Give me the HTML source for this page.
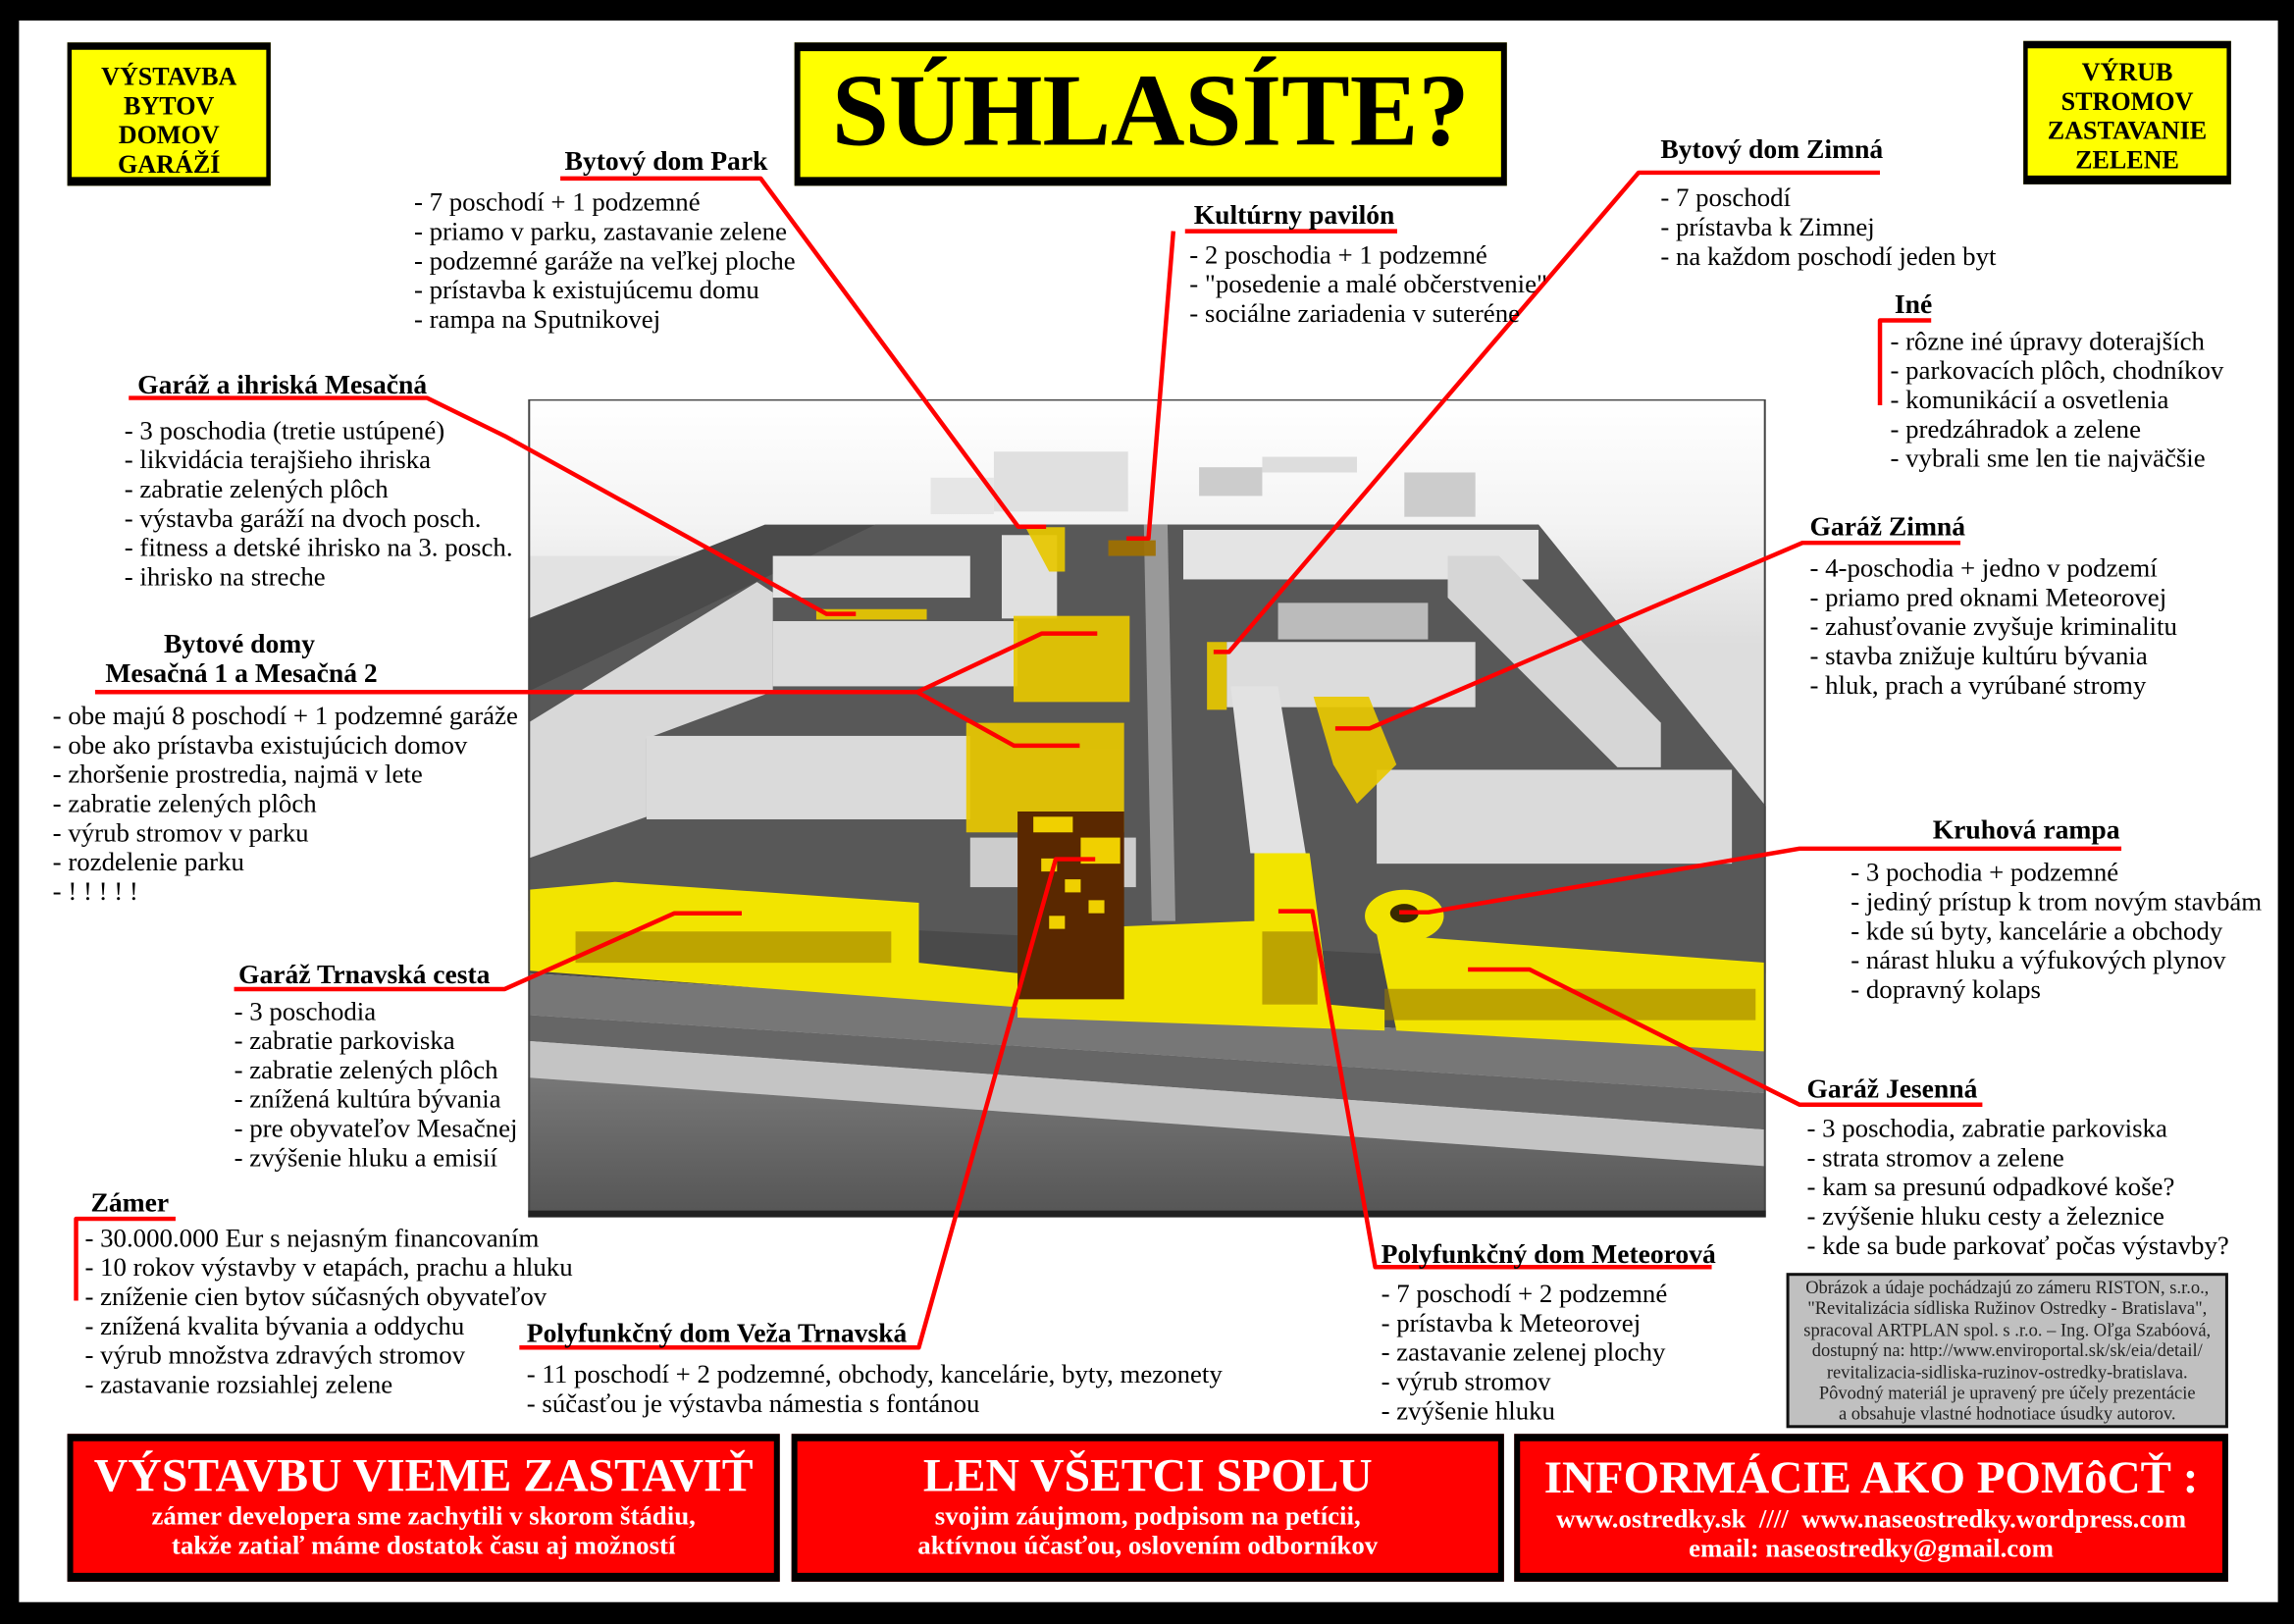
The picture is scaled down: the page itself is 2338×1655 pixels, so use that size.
<!DOCTYPE html>
<html><head><meta charset="utf-8"><style>
html,body{margin:0;padding:0;background:#000;width:2338px;height:1654px;overflow:hidden}
#s{position:absolute;left:0;top:0;width:1568px;height:1110px;transform:scale(1.49107);transform-origin:0 0;font-family:"Liberation Serif",serif;color:#000}
.a{position:absolute;white-space:nowrap}
.l{font-size:18px;line-height:20px}
.h{font-size:18.5px;line-height:20px;font-weight:bold}
.yb{position:absolute;background:#ff0;border:solid #000;border-width:5px 3px 6px 3px;box-sizing:border-box;text-align:center;font-weight:bold}
.rb{position:absolute;background:#f00;border:solid #000;border-width:5px 4px 6px 4px;box-sizing:border-box;text-align:center;color:#fff;font-weight:bold}
</style></head><body><div id="s">
<div style="position:absolute;left:13.4px;top:14px;width:1543.6px;height:1081px;background:#fff"></div>

<div class="yb" style="left:46px;top:29px;width:139px;height:98px;font-size:17.5px;line-height:20px;padding-top:8px">VÝSTAVBA<br>BYTOV<br>DOMOV<br>GARÁŽÍ</div>
<div class="yb" style="left:543px;top:29px;width:487px;height:98px;border-width:6px 4px 6px 4px;font-size:70px;line-height:84px">SÚHLASÍTE?</div>
<div class="yb" style="left:1383px;top:28px;width:142px;height:98px;font-size:17.5px;line-height:20px;padding-top:6px">VÝRUB<br>STROMOV<br>ZASTAVANIE<br>ZELENE</div>

<svg style="position:absolute;left:361px;top:273px" width="846" height="559" viewBox="0 0 1568 1568" preserveAspectRatio="none">
<defs><linearGradient id="g1" x1="0" y1="0" x2="0" y2="1"><stop offset="0" stop-color="#fff"/><stop offset="0.15" stop-color="#f4f4f4"/><stop offset="0.3" stop-color="#ddd"/></linearGradient>
<linearGradient id="g2" x1="0" y1="0" x2="0" y2="1"><stop offset="0" stop-color="#777"/><stop offset="1" stop-color="#555"/></linearGradient></defs>
<rect width="1568" height="1568" fill="url(#g1)"/>
<rect x="0" y="300" width="300" height="350" fill="#e2e2e2"/>
<rect x="590" y="100" width="170" height="115" fill="#e0e0e0"/><rect x="510" y="150" width="80" height="70" fill="#e6e6e6"/>
<rect x="850" y="130" width="80" height="55" fill="#ccc"/><rect x="930" y="110" width="120" height="30" fill="#ddd"/>
<rect x="1110" y="140" width="90" height="85" fill="#ccc"/>
<polygon points="300,240 1280,240 1568,780 1568,1250 0,1100 0,420" fill="#4a4a4a"/>
<polygon points="440,240 1280,240 1568,780 1568,1100 0,980 0,560" fill="#585858"/>
<polygon points="0,1100 1568,1250 1568,1330 0,1180" fill="#777"/>
<polygon points="0,1180 1568,1330 1568,1400 0,1230" fill="#666"/>
<polygon points="0,1230 1568,1400 1568,1470 0,1300" fill="#c4c4c4"/>
<polygon points="0,1300 1568,1470 1568,1568 0,1568" fill="url(#g2)"/>
<polygon points="780,240 810,240 820,1000 790,1000" fill="#999"/>
<polygon points="0,620 290,350 310,370 310,560 150,650 150,800 0,880" fill="#d8d8d8"/>
<rect x="310" y="300" width="250" height="80" fill="#e4e4e4"/>
<rect x="310" y="425" width="310" height="125" fill="#dcdcdc"/>
<rect x="150" y="645" width="410" height="160" fill="#dadada"/>
<rect x="600" y="260" width="70" height="160" fill="#e0e0e0"/>
<rect x="830" y="250" width="450" height="95" fill="#e4e4e4"/>
<rect x="950" y="390" width="190" height="70" fill="#bbb"/>
<rect x="885" y="465" width="315" height="125" fill="#dcdcdc"/>
<polygon points="1165,300 1230,300 1435,620 1435,705 1380,705 1165,380" fill="#d6d6d6"/>
<rect x="1075" y="710" width="450" height="180" fill="#dadada"/>
<polygon points="890,550 950,550 985,870 915,870" fill="#e2e2e2"/>
<rect x="560" y="840" width="210" height="95" fill="#ccc"/>
<g fill="#e8c800" opacity="0.92">
<rect x="615" y="415" width="147" height="165"/>
<rect x="555" y="620" width="200" height="210"/>
<polygon points="630,245 680,245 680,330 660,330"/>
<rect x="735" y="270" width="60" height="30" fill="#a07000"/>
<rect x="860" y="465" width="25" height="130"/>
<polygon points="995,570 1065,570 1100,700 1050,775 1020,700"/>
<rect x="365" y="402" width="140" height="20"/>
</g>
<g fill="#f2e400">
<polygon points="0,940 110,925 495,965 495,1080 620,1100 620,1165 0,1095"/>
<polygon points="755,1010 920,1000 920,870 990,870 1015,1160 1085,1170 1085,1210 620,1185 620,1100"/>
<polygon points="1075,1025 1568,1080 1568,1250 1100,1210"/>
<circle cx="1110" cy="990" r="50"/>
</g>
<g fill="#9a7a00" opacity="0.6"><rect x="60" y="1020" width="400" height="60"/><rect x="1085" y="1130" width="470" height="60"/><rect x="930" y="1020" width="70" height="140"/></g>
<rect x="620" y="790" width="135" height="360" fill="#5a2800"/>
<g fill="#f0d000"><rect x="640" y="800" width="50" height="30"/><rect x="700" y="840" width="50" height="50"/><rect x="650" y="880" width="20" height="25"/><rect x="680" y="920" width="20" height="25"/><rect x="710" y="960" width="20" height="25"/><rect x="660" y="990" width="20" height="25"/></g>
<circle cx="1110" cy="985" r="18" fill="#3a2a00"/>
<rect x="1" y="1" width="1566" height="1566" fill="none" stroke="#444" stroke-width="3"/>
<rect x="0" y="1555" width="1568" height="13" fill="#222"/>
</svg>

<svg style="position:absolute;left:0;top:0" width="1568" height="1110" fill="none" stroke="#f00" stroke-width="3" stroke-linejoin="round">
<polyline points="383,122 520,122 696,360 715,360"/>
<polyline points="810,158 955,158"/><polyline points="802,158 785,368 770,368"/>
<polyline points="1285,118 1120,118 840,445.6 829.5,445.6"/>
<polyline points="1320,219 1285,219 1285,277"/>
<polyline points="88,272 292,272 345,298 565,419.6 585,419.6"/>
<polyline points="65,473 627,473 712,433 750,433"/><polyline points="627,473 693,509.6 738,509.6"/>
<polyline points="1340,371 1232,371 936,497.9 912.7,497.9"/>
<polyline points="1450,580 1230,580 976.4,623.5 956.4,623.5"/>
<polyline points="160,676 345,676 461,624.2 507,624.2"/>
<polyline points="1355,755 1230,755 1045.5,662.6 1003.4,662.6"/>
<polyline points="120,833 52,833 52,889"/>
<polyline points="355,921 628,921 721.6,587.2 748.6,587.2"/>
<polyline points="1170,866 940,866 897,622.8 873.8,622.8"/>
</svg>

<div class="a h" style="left:386px;top:101px">Bytový dom Park</div>
<div class="a l" style="left:283px;top:128px">- 7 poschodí + 1 podzemné<br>- priamo v parku, zastavanie zelene<br>- podzemné garáže na veľkej ploche<br>- prístavba k existujúcemu domu<br>- rampa na Sputnikovej</div>
<div class="a h" style="left:816px;top:138px">Kultúrny pavilón</div>
<div class="a l" style="left:813px;top:164px">- 2 poschodia + 1 podzemné<br>- "posedenie a malé občerstvenie"<br>- sociálne zariadenia v suteréne</div>
<div class="a h" style="left:1135px;top:93px">Bytový dom Zimná</div>
<div class="a l" style="left:1135px;top:125px">- 7 poschodí<br>- prístavba k Zimnej<br>- na každom poschodí jeden byt</div>
<div class="a h" style="left:1295px;top:199px">Iné</div>
<div class="a l" style="left:1292px;top:223px">- rôzne iné úpravy doterajších<br>- parkovacích plôch, chodníkov<br>- komunikácií a osvetlenia<br>- predzáhradok a zelene<br>- vybrali sme len tie najväčšie</div>
<div class="a h" style="left:94px;top:254px">Garáž a ihriská Mesačná</div>
<div class="a l" style="left:85px;top:284px">- 3 poschodia (tretie ustúpené)<br>- likvidácia terajšieho ihriska<br>- zabratie zelených plôch<br>- výstavba garáží na dvoch posch.<br>- fitness a detské ihrisko na 3. posch.<br>- ihrisko na streche</div>
<div class="a h" style="left:112px;top:431px">Bytové domy</div>
<div class="a h" style="left:72px;top:451px">Mesačná 1 a Mesačná 2</div>
<div class="a l" style="left:36px;top:479px">- obe majú 8 poschodí + 1 podzemné garáže<br>- obe ako prístavba existujúcich domov<br>- zhoršenie prostredia, najmä v lete<br>- zabratie zelených plôch<br>- výrub stromov v parku<br>- rozdelenie parku<br>- ! ! ! ! !</div>
<div class="a h" style="left:1237px;top:351px">Garáž Zimná</div>
<div class="a l" style="left:1237px;top:378px">- 4-poschodia + jedno v podzemí<br>- priamo pred oknami Meteorovej<br>- zahusťovanie zvyšuje kriminalitu<br>- stavba znižuje kultúru bývania<br>- hluk, prach a vyrúbané stromy</div>
<div class="a h" style="left:1321px;top:558px">Kruhová rampa</div>
<div class="a l" style="left:1265px;top:586px">- 3 pochodia + podzemné<br>- jediný prístup k trom novým stavbám<br>- kde sú byty, kancelárie a obchody<br>- nárast hluku a výfukových plynov<br>- dopravný kolaps</div>
<div class="a h" style="left:163px;top:657px">Garáž Trnavská cesta</div>
<div class="a l" style="left:160px;top:681px">- 3 poschodia<br>- zabratie parkoviska<br>- zabratie zelených plôch<br>- znížená kultúra bývania<br>- pre obyvateľov Mesačnej<br>- zvýšenie hluku a emisií</div>
<div class="a h" style="left:1235px;top:735px">Garáž Jesenná</div>
<div class="a l" style="left:1235px;top:761px">- 3 poschodia, zabratie parkoviska<br>- strata stromov a zelene<br>- kam sa presunú odpadkové koše?<br>- zvýšenie hluku cesty a železnice<br>- kde sa bude parkovať počas výstavby?</div>
<div class="a h" style="left:62px;top:813px">Zámer</div>
<div class="a l" style="left:58px;top:836px">- 30.000.000 Eur s nejasným financovaním<br>- 10 rokov výstavby v etapách, prachu a hluku<br>- zníženie cien bytov súčasných obyvateľov<br>- znížená kvalita bývania a oddychu<br>- výrub množstva zdravých stromov<br>- zastavanie rozsiahlej zelene</div>
<div class="a h" style="left:360px;top:902px">Polyfunkčný dom Veža Trnavská</div>
<div class="a l" style="left:360px;top:929px">- 11 poschodí + 2 podzemné, obchody, kancelárie, byty, mezonety<br>- súčasťou je výstavba námestia s fontánou</div>
<div class="a h" style="left:944px;top:848px">Polyfunkčný dom Meteorová</div>
<div class="a l" style="left:944px;top:874px">- 7 poschodí + 2 podzemné<br>- prístavba k Meteorovej<br>- zastavanie zelenej plochy<br>- výrub stromov<br>- zvýšenie hluku</div>

<div style="position:absolute;left:1221px;top:870px;width:302px;height:106px;box-sizing:border-box;background:#c0c0c0;border:2px solid #111;text-align:center;font-size:12.4px;line-height:14.4px;color:#222;white-space:nowrap;overflow:hidden;padding-top:1px">Obrázok a údaje pochádzajú zo zámeru RISTON, s.r.o.,<br>"Revitalizácia sídliska Ružinov Ostredky - Bratislava",<br>spracoval ARTPLAN spol. s .r.o. – Ing. Oľga Szabóová,<br>dostupný na: http://www.enviroportal.sk/sk/eia/detail/<br>revitalizacia-sidliska-ruzinov-ostredky-bratislava.<br>Pôvodný materiál je upravený pre účely prezentácie<br>a obsahuje vlastné hodnotiace úsudky autorov.</div>

<div class="rb" style="left:46px;top:980px;width:487px;height:101px"><div style="font-size:32px;line-height:36px;margin-top:5px">VÝSTAVBU VIEME ZASTAVIŤ</div><div style="font-size:18px;line-height:20px">zámer developera sme zachytili v skorom štádiu,<br>takže zatiaľ máme dostatok času aj možností</div></div>
<div class="rb" style="left:541px;top:980px;width:487px;height:101px"><div style="font-size:32px;line-height:36px;margin-top:5px">LEN VŠETCI SPOLU</div><div style="font-size:18px;line-height:20px">svojim záujmom, podpisom na petícii,<br>aktívnou účasťou, oslovením odborníkov</div></div>
<div class="rb" style="left:1035px;top:980px;width:488px;height:101px"><div style="font-size:31.5px;line-height:36px;margin-top:7px">INFORMÁCIE AKO POMôCŤ :</div><div style="font-size:18px;line-height:20px">www.ostredky.sk&nbsp; ////&nbsp; www.naseostredky.wordpress.com<br>email: naseostredky@gmail.com</div></div>
</div></body></html>
